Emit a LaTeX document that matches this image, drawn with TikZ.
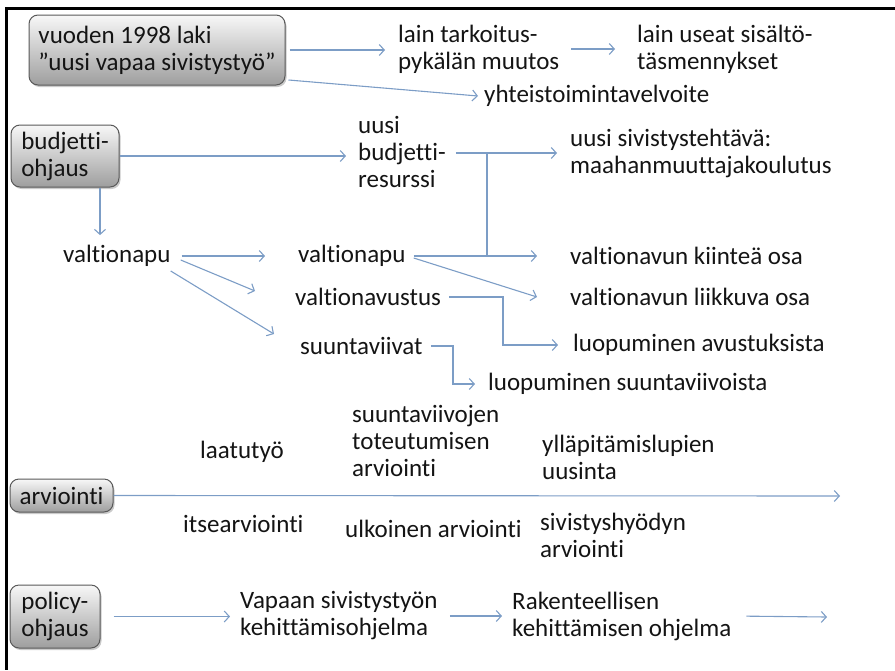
\documentclass[tikz,border=0pt]{standalone}
\usepackage{fontspec}
\setmainfont{Carlito}[Ligatures=NoCommon]
\usetikzlibrary{arrows.meta,shadows,calc}
\definecolor{arrowblue}{RGB}{124,157,198}
\definecolor{inkc}{RGB}{20,20,20}
\begin{document}
\begin{tikzpicture}[x=1pt,y=-1pt,
  lbl/.style={inner sep=0pt, anchor=west, align=left, font=\fontsize{25}{27}\selectfont, text=inkc},
  gbox/.style={draw=black!65, line width=1pt, rounded corners=9pt, top color=black!3, bottom color=black!38,
    drop shadow={shadow xshift=1.5pt, shadow yshift=-2pt, fill=black!60, opacity=0.35},
    align=left, font=\fontsize{25}{27}\selectfont, inner sep=0pt, text=inkc},
  arr/.style={draw=arrowblue, line width=1.1pt, -{Straight Barb[length=5pt,width=11pt]}},
  ln/.style={draw=arrowblue, line width=1.1pt},
  frame/.style={line width=3pt, draw=black}
]
\useasboundingbox (0,0) rectangle (895,670);
\draw[frame] (5,8) -- (895,8);
\draw[frame] (6.5,8) -- (6.5,670);

% boxes
\node[gbox, minimum width=256pt, minimum height=70pt] (law) at (157,50) {vuoden 1998 laki\\”uusi vapaa sivistystyö”};
\node[gbox, minimum width=108pt, minimum height=62pt] (budget) at (65,156) {budjetti-\\ohjaus};
\node[gbox, minimum width=103pt, minimum height=33pt] (evalb) at (61.5,495.5) {arviointi};
\node[gbox, minimum width=90pt, minimum height=63pt] (policy) at (55,616.5) {policy-\\ohjaus};

% labels
\node[lbl] (t1) at (398,49) {lain tarkoitus-\\pykälän muutos};
\node[lbl] (t2) at (637,49) {lain useat sisältö-\\täsmennykset};
\node[lbl] (t3) at (484,96) {yhteistoimintavelvoite};
\node[lbl] (t4) at (358,152) {uusi\\budjetti-\\resurssi};
\node[lbl] (t5) at (570,153) {uusi sivistystehtävä:\\maahanmuuttajakoulutus};
\node[lbl] (t6) at (63,256) {valtionapu};
\node[lbl] (t7) at (298,256) {valtionapu};
\node[lbl] (t10) at (570,256) {valtionavun kiinteä osa};
\node[lbl] (t8) at (295,297) {valtionavustus};
\node[lbl] (t11) at (570,297) {valtionavun liikkuva osa};
\node[lbl] (t9) at (300,346) {suuntaviivat};
\node[lbl] (t12) at (573,345) {luopuminen avustuksista};
\node[lbl] (t13) at (488,384) {luopuminen suuntaviivoista};
\node[lbl] (t14) at (352,441) {suuntaviivojen\\toteutumisen\\arviointi};
\node[lbl] (t15) at (200,452) {laatutyö};
\node[lbl] (t16) at (542,457) {ylläpitämislupien\\uusinta};
\node[lbl] (t17) at (183,524) {itsearviointi};
\node[lbl] (t18) at (345,529) {ulkoinen arviointi};
\node[lbl] (t19) at (540,535) {sivistyshyödyn\\arviointi};
\node[lbl] (t20) at (240,616) {Vapaan sivistystyön\\kehittämisohjelma};
\node[lbl] (t21) at (512,616) {Rakenteellisen\\kehittämisen ohjelma};

% helper coordinates
\coordinate (j1) at (487,153);
\coordinate (j2) at (487,256);
\coordinate (k1) at (503,297);
\coordinate (k2) at (453,346);
\coordinate (evend) at (840,496);
\coordinate (pend) at (827,617);

% connectors
\draw[arr, shorten <=4pt, shorten >=13pt] (law.east) -- (law.east -| t1.west);
\draw[arr, shorten <=12pt, shorten >=22pt] (t1.east) -- (t1.east -| t2.west);
\draw[arr] ([xshift=3pt,yshift=-30pt]law.east) -- ([xshift=-6pt]t3.west);
\draw[arr, shorten >=12pt] (budget.east) -- (budget.east -| t4.west);
\draw[arr, shorten <=10pt, shorten >=13pt] (t4.east |- j1) -- (j1 -| t5.west);
\draw[ln] (j1) -- (j2);
\draw[arr, shorten >=10pt] ([xshift=35pt]budget.south) -- ([xshift=35pt]budget.south |- t6.north);
\draw[arr, shorten <=11pt, shorten >=33pt] (t6.east) -- (t7.west);
\draw[arr] ([xshift=10pt,yshift=-4pt]t6.east) -- ([xshift=-40pt,yshift=6pt]t8.west);
\draw[arr] ([yshift=-15pt]t6.east) -- ([xshift=-26pt,yshift=12pt]t9.west);
\draw[arr, shorten <=8pt, shorten >=33pt] (t7.east) -- (t10.west);
\draw[arr] ([xshift=8pt,yshift=-2pt]t7.east) -- ([xshift=-33pt]t11.west);
\draw[arr, shorten <=8pt] (t8.east) -- (k1) -- (k1 |- t12.west) -- ([xshift=-15pt]t12.west);
\draw[arr, shorten <=8pt] (t9.east) -- (k2) -- (k2 |- t13.west) -- ([xshift=-13pt]t13.west);
\draw[arr] (evalb.east) -- (evend);
\draw[arr, shorten <=13pt, shorten >=10pt] (policy.east) -- (policy.east -| t20.west);
\draw[arr, shorten <=12pt, shorten >=10pt] (t20.east) -- (t20.east -| t21.west);
\draw[arr, shorten <=15pt] (t21.east) -- (pend);
\end{tikzpicture}
\end{document}
